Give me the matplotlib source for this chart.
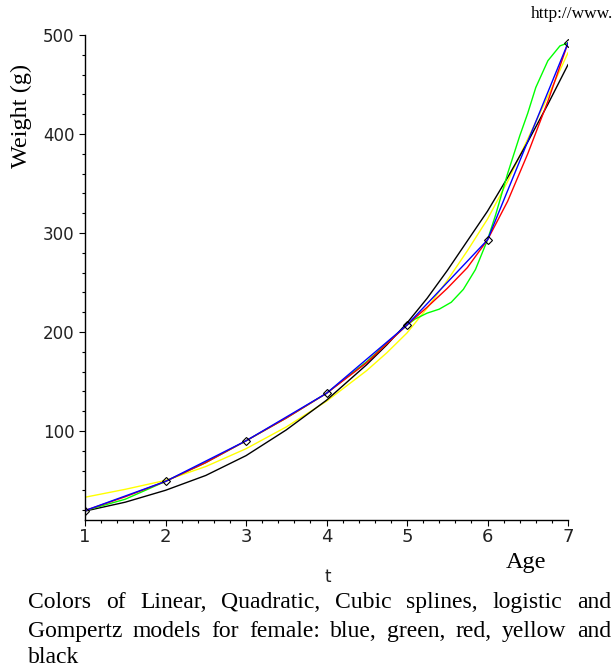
import matplotlib
matplotlib.use("Agg")
import matplotlib.pyplot as plt
from matplotlib.ticker import MultipleLocator

# observed weights (diamond markers)
age = [1, 2, 3, 4, 5, 6, 7]
weight = [19.5, 49, 90, 138, 207, 293, 492]

# quadratic spline (green)
t_quad = [1, 1.5, 2, 2.5, 3, 3.5, 4, 4.5, 5, 5.1, 5.25, 5.4, 5.55, 5.7, 5.85, 6,
          6.1, 6.25, 6.4, 6.5, 6.6, 6.75, 6.9, 7]
w_quad = [19.5, 31, 49, 68, 90, 113, 138, 170, 207, 213, 219, 223, 230, 243, 263, 293,
          318, 360, 398, 421, 447, 474, 489, 492]

# cubic spline (red)
t_cub = [1, 1.5, 2, 2.5, 3, 3.5, 4, 4.5, 5, 5.25, 5.5, 5.75, 6, 6.25, 6.5, 6.75, 7]
w_cub = [19.5, 33.5, 49, 68, 90, 113, 138, 169, 207, 225, 244, 265, 293, 332, 380, 433, 492]

# logistic (yellow) and Gompertz (black) fits
t_fit = [1, 1.5, 2, 2.5, 3, 3.5, 4, 4.5, 4.75, 5, 5.25, 5.5, 5.75, 6, 6.25, 6.5, 6.75, 7]
w_logistic = [33, 41, 50, 64, 82, 104, 130, 161, 179, 199, 224, 252, 282, 314, 352, 395, 438, 482]
w_gompertz = [19, 28, 40, 55, 75, 101, 131, 167, 187, 209, 234, 262, 292, 322, 356, 392, 430, 470]

caption = ["Colors of Linear, Quadratic, Cubic splines, logistic and",
           "Gompertz models for female: blue, green, red, yellow and",
           "black"]

W, H = 613, 670
fig = plt.figure(figsize=(W / 100, H / 100), dpi=100)


def fx(px):
    return px / W


def fy(py):
    return 1 - py / H


ax = fig.add_axes([fx(85), fy(520), fx(568) - fx(85), fy(35) - fy(520)])

ax.plot(t_fit, w_logistic, color=(1, 1, 0), lw=1)
ax.plot(t_fit, w_gompertz, color="black", lw=1)
ax.plot(t_quad, w_quad, color=(0, 1, 0), lw=1)
ax.plot(t_cub, w_cub, color=(1, 0, 0), lw=1)
ax.plot(age, weight, color=(0, 0, 1), lw=1)
ax.plot(age, weight, ls="none", marker="D", ms=4.5, mfc="none", mec="black", mew=0.8)

ax.set_xlim(1, 7)
ax.set_ylim(10, 500)
for s in ["top", "right"]:
    ax.spines[s].set_visible(False)
for s in ["left", "bottom"]:
    ax.spines[s].set_linewidth(1.0)

ax.xaxis.set_major_locator(MultipleLocator(1))
ax.xaxis.set_minor_locator(MultipleLocator(0.2))
ax.yaxis.set_major_locator(MultipleLocator(100))
ax.yaxis.set_minor_locator(MultipleLocator(20))
ax.tick_params(axis="x", which="major", length=4.5, width=0.8, pad=1, labelsize=13)
ax.tick_params(axis="y", which="major", length=4.5, width=0.8, pad=3, labelsize=12)
ax.tick_params(which="minor", length=2.2, width=0.8)
for lab in ax.get_xticklabels() + ax.get_yticklabels():
    lab.set_color("#222222")

serif = "Liberation Serif"
fig.text(fx(531), fy(18), "http://www.", family=serif, fontsize=12.5, va="baseline")
fig.text(fx(21), fy(116), "Weight (g)", family=serif, fontsize=17.5, rotation=90,
         ha="center", va="center")
fig.text(fx(506), fy(568), "Age", family=serif, fontsize=17.5, va="baseline")
fig.text(fx(328), fy(577), "t", fontsize=12, ha="center", va="center", color="#222222")

# caption, justified like the source page: one text per word
renderer = fig.canvas.get_renderer()
baselines = [608, 637, 663]
for i, (line, yb) in enumerate(zip(caption, baselines)):
    words = line.split()
    texts = [fig.text(0, fy(yb), w, family=serif, fontsize=17, va="baseline") for w in words]
    widths = [t.get_window_extent(renderer).width for t in texts]
    if i < len(caption) - 1 and len(words) > 1:
        gap = (611 - 28 - sum(widths)) / (len(words) - 1)
    else:
        gap = 17 * 0.25 * 100 / 72
    x = 28
    for t, wd in zip(texts, widths):
        t.set_x(fx(x))
        x += wd + gap

fig.savefig("out.png", dpi=100)
